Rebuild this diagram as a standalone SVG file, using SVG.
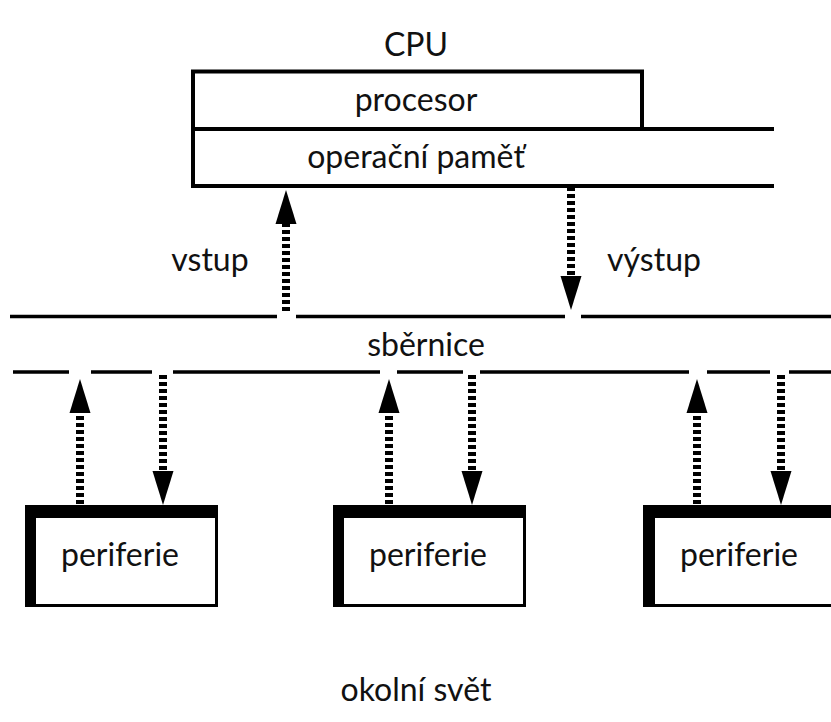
<svg xmlns="http://www.w3.org/2000/svg" width="831" height="722" viewBox="0 0 831 722">
<style>
.t{font-family:Lato,"Open Sans","Liberation Sans",sans-serif;font-size:32px;fill:#111;text-anchor:middle}
.ln{stroke:#000;stroke-width:4;fill:none;stroke-linecap:square}
.bus{stroke:#000;stroke-width:3.5;fill:none}
.dot{stroke:#000;stroke-width:8;stroke-dasharray:4 3;fill:none}
</style>
<defs>
<marker id="ah" markerUnits="userSpaceOnUse" markerWidth="34" markerHeight="22" refX="0" refY="11" orient="auto" viewBox="0 0 34 22">
<path d="M0,0.5 L34,11 L0,21.5 z" fill="#000"/>
</marker>
</defs>
<rect width="831" height="722" fill="#fff"/>
<text class="t" x="416" y="56">CPU</text>
<g id="cpu">
<path class="ln" d="M193,186 V71.5 H642 V129"/>
<path class="ln" d="M193,129 H772 M193,186 H772"/>
<text class="t" x="416" y="111">procesor</text>
<text class="t" x="416" y="168">operační paměť</text>
</g>
<g id="bus">
<path class="bus" d="M10,316.5 H277 M296,316.5 H565 M581,316.5 H831"/>
<path class="bus" d="M13,372 H69 M91,372 H152 M173,372 H380 M397,372 H463 M480,372 H689 M707,372 H770 M789,372 H831"/>
<text class="t" x="426" y="356">sběrnice</text>
</g>
<text class="t" x="210" y="271">vstup</text>
<text class="t" x="654" y="271">výstup</text>
<g id="p1">
<rect x="25" y="505" width="193" height="102" fill="#000"/>
<rect x="36" y="518" width="179" height="86" fill="#fff"/>
<text class="t" x="120" y="566">periferie</text>
</g>
<g id="p2">
<rect x="333" y="505" width="193" height="102" fill="#000"/>
<rect x="344" y="518" width="179" height="86" fill="#fff"/>
<text class="t" x="428" y="566">periferie</text>
</g>
<g id="p3">
<rect x="643" y="505" width="200" height="102" fill="#000"/>
<rect x="655" y="518" width="190" height="86" fill="#fff"/>
<text class="t" x="739" y="566">periferie</text>
</g>
<g id="connectors">
<path class="dot" d="M286,311 V224" marker-end="url(#ah)"/>
<path class="dot" d="M571,187 V276" marker-end="url(#ah)"/>
<path class="dot" d="M80,504 V413" marker-end="url(#ah)"/>
<path class="dot" d="M163,375 V471" marker-end="url(#ah)"/>
<path class="dot" d="M389,504 V413" marker-end="url(#ah)"/>
<path class="dot" d="M472,375 V471" marker-end="url(#ah)"/>
<path class="dot" d="M697,504 V413" marker-end="url(#ah)"/>
<path class="dot" d="M781,375 V471" marker-end="url(#ah)"/>
</g>
<text class="t" x="416" y="701">okolní svět</text>
</svg>
